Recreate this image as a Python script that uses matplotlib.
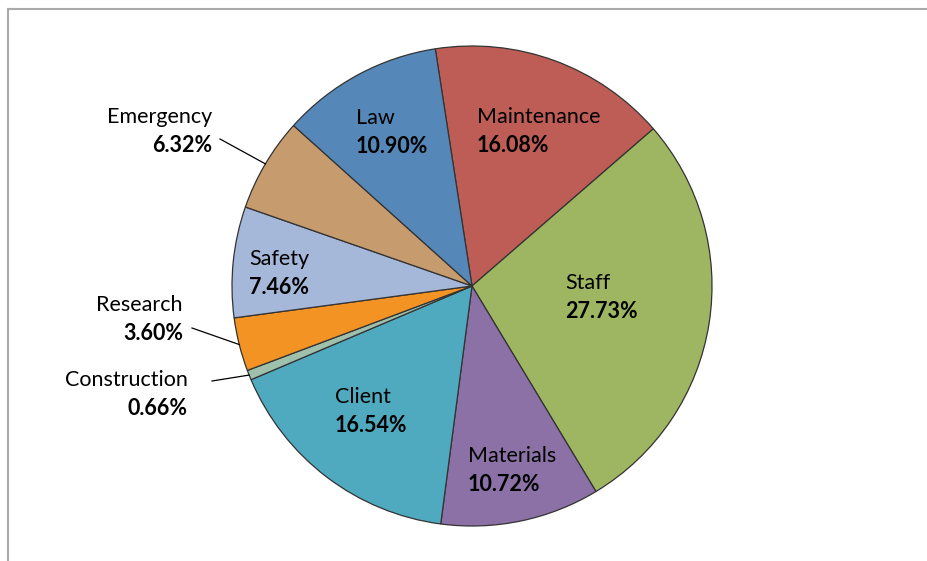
import numpy as np
import matplotlib.pyplot as plt
from matplotlib.lines import Line2D

# slice data, clockwise from the top
labels = ["Maintenance", "Staff", "Materials", "Client", "Construction",
          "Research", "Safety", "Emergency", "Law"]
shares = [16.08, 27.73, 10.72, 16.54, 0.66, 3.60, 7.46, 6.32, 10.90]
colors = ["#be5c56", "#9eb661", "#8b71a6", "#4faabf", "#9ec0ac",
          "#f39324", "#a6b8d9", "#c69b6d", "#5588b8"]

W, H = 928, 561
CX, CY, R = 472, 286, 240   # pie centre and radius in pixels

plt.rcParams['font.family'] = ['Lato', 'DejaVu Sans']

fig = plt.figure(figsize=(W / 100, H / 100), dpi=100)
ax = fig.add_axes([0, 0, 1, 1])
ax.set_xlim(-CX / R, (W - CX) / R)
ax.set_ylim((CY - H) / R, CY / R)
ax.axis('off')


def px(x, y):
    """pixel position -> data coords"""
    return (x - CX) / R, (CY - y) / R


wedges, _ = ax.pie(shares, colors=colors, startangle=98.8, counterclock=False,
                   radius=1, center=(0, 0), frame=True,
                   wedgeprops=dict(edgecolor="#333333", linewidth=0.9))
ax.set_xlim(-CX / R, (W - CX) / R)
ax.set_ylim((CY - H) / R, CY / R)
ax.set_aspect('auto')
ax.axis('off')

# label positions: (x, name baseline y) in pixels, alignment
label_pos = {
    "Maintenance": (477, 123, 'left'),
    "Staff": (565, 289, 'left'),
    "Materials": (468, 462, 'left'),
    "Client": (335, 403, 'left'),
    "Construction": (188, 386, 'right'),
    "Research": (183, 311, 'right'),
    "Safety": (249, 265, 'left'),
    "Emergency": (212, 123, 'right'),
    "Law": (356, 124, 'left'),
}
leader_start = {
    "Emergency": (220, 139),
    "Research": (192, 328),
    "Construction": (212, 381),
}

fs = 15.5
for w, name, val in zip(wedges, labels, shares):
    x, y, ha = label_pos[name]
    ax.text(*px(x, y), name, ha=ha, va='baseline', fontsize=fs, color='black')
    ax.text(*px(x, y + 29), "%.2f%%" % val, ha=ha, va='baseline',
            fontsize=fs, fontweight='bold', color='black')
    if name in leader_start:
        mid = np.deg2rad((w.theta1 + w.theta2) / 2)
        sx, sy = px(*leader_start[name])
        ax.plot([sx, np.cos(mid)], [sy, np.sin(mid)], color='black', lw=0.9)

# grey frame at top and left edge
fig.add_artist(Line2D([8.5 / W, 1], [1 - 8.5 / H, 1 - 8.5 / H],
                      color='#aaaaaa', lw=1.5))
fig.add_artist(Line2D([8.5 / W, 8.5 / W], [0, 1 - 8.5 / H],
                      color='#aaaaaa', lw=1.5))

fig.savefig("out.png", dpi=100)
